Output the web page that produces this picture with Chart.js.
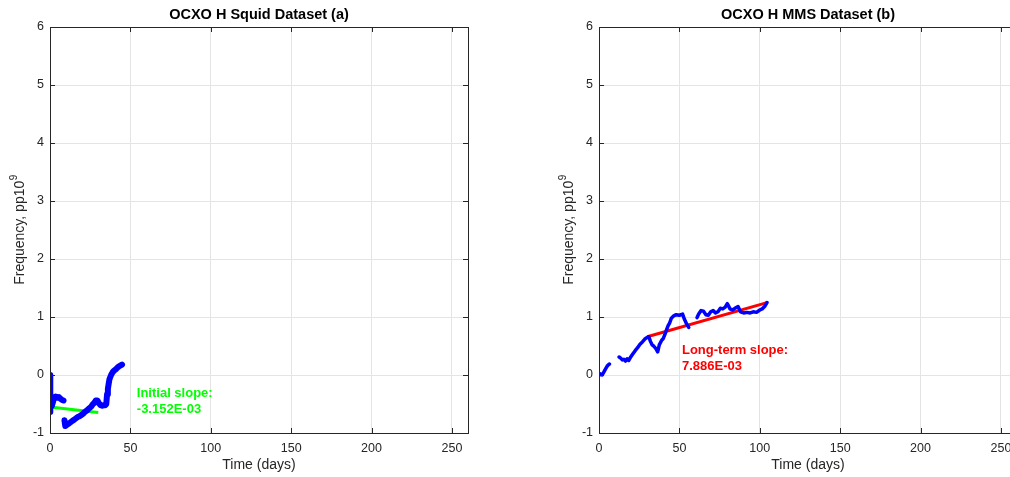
<!DOCTYPE html>
<html>
<head>
<meta charset="utf-8">
<script src="https://cdn.jsdelivr.net/npm/chart.js@4.4.1/dist/chart.umd.min.js"></script>
<style>
  html, body { margin: 0; padding: 0; background: #fff; overflow: hidden; }
  #wrap { position: relative; width: 1010px; height: 477px; overflow: hidden; }
  .panel { position: absolute; top: 0; width: 505px; height: 477px; }
  #left { left: 0; }
  #right { left: 549px; }
</style>
</head>
<body>
<div id="wrap">
  <div class="panel" id="left"><canvas id="squid"></canvas></div>
  <div class="panel" id="right"><canvas id="mms"></canvas></div>
</div>
<script>
// tick labels
const xTickValues = [0, 50, 100, 150, 200, 250];
const yTickValues = [-1, 0, 1, 2, 3, 4, 5, 6];

// panel (a) - Squid dataset, days / frequency (pp10^9), null = gap
const squidDays = [0, 0.05, 0.3, 1, 1.8, 2.5, 3.5, 4.5, 5.5, 6.5, 7.5, 8.4, 8.7,
  9, 9.5, 10.5, 11.5, 12.5, 13.5, 14.5, 15.5, 16.5, 17.5, 18.5, 19.5, 20.5, 21.5,
  22.5, 23.5, 24.5, 25.5, 26.5, 27.5, 28.5, 29.5, 30.5, 31.5, 32.5, 33.5, 34.5, 35,
  35.5, 36, 36.5, 37, 38, 39, 40, 41, 42, 43, 44.8];
const squidFreq = [0, -0.64, -0.56, -0.54, -0.47, -0.39, -0.37, -0.39, -0.38, -0.41, -0.43, -0.44, null,
  -0.78, -0.88, -0.86, -0.84, -0.82, -0.8, -0.78, -0.76, -0.74, -0.72, -0.71, -0.69, -0.67, -0.64,
  -0.62, -0.6, -0.57, -0.55, -0.51, -0.48, -0.44, -0.44, -0.49, -0.52, -0.53, -0.52, -0.52, -0.5,
  -0.33, -0.24, -0.15, -0.07, 0.0, 0.05, 0.08, 0.1, 0.13, 0.15, 0.18];
const squidFitDays = [0, 30];
const squidFitFreq = [-0.55, -0.645];

// panel (b) - MMS dataset
const mmsDays = [0, 1, 2, 3, 4, 5, 6, 6.5, 9,
  12.5, 13.5, 14.5, 15.5, 16.5, 17.5, 18.5, 19.5, 21, 22.5, 24, 25.5, 27, 28.5, 30, 31,
  32, 33, 34, 35.5, 36.5, 37.5, 39, 40, 41, 42, 43, 44, 45, 46.5, 48, 50, 52, 53, 54.5, 55.8, 58,
  61, 62, 63.5, 65, 66.5, 68, 69.5, 71, 72.5, 74, 75.5, 77, 78.5, 79.8, 81.5, 83, 84.5, 86.5,
  88, 90, 92, 94, 96, 98, 100, 101.5, 103, 104.5];
const mmsFreq = [0, 0.02, 0, 0.05, 0.1, 0.15, 0.18, 0.19, null,
  0.31, 0.29, 0.26, 0.27, 0.24, 0.28, 0.25, 0.3, 0.36, 0.42, 0.47, 0.53, 0.57, 0.62, 0.65, 0.66,
  0.58, 0.52, 0.5, 0.45, 0.4, 0.52, 0.6, 0.63, 0.7, 0.78, 0.85, 0.9, 0.98, 1.02, 1.04, 1.03, 1.05, 0.97, 0.88, 0.82, null,
  0.99, 1.05, 1.11, 1.1, 1.04, 1.03, 1.09, 1.11, 1.07, 1.09, 1.15, 1.14, 1.17, 1.23, 1.14, 1.12, 1.15, 1.18,
  1.09, 1.07, 1.08, 1.07, 1.09, 1.08, 1.12, 1.14, 1.18, 1.25];
const mmsFitDays = [30, 104.5];
const mmsFitFreq = [0.66, 1.247];

const ink = '#262626';
const font = 'Liberation Sans, Arial, Helvetica, sans-serif';

function pts(xs, ys) {
  return xs.map((x, i) => ({ x: x, y: ys[i] }));
}

// MATLAB-like frame: title, box, inward ticks, y label with superscript, slope note
const framePlugin = {
  id: 'frame',
  afterDraw(chart, args, opts) {
    const ctx = chart.ctx;
    const a = chart.chartArea;
    const xs = chart.scales.x, ys = chart.scales.y;
    ctx.save();
    ctx.strokeStyle = ink;
    ctx.lineWidth = 1;
    ctx.beginPath();
    xTickValues.forEach(v => {
      const px = Math.round(xs.getPixelForValue(v)) + 0.5;
      ctx.moveTo(px, a.bottom); ctx.lineTo(px, a.bottom - 5);
      ctx.moveTo(px, a.top); ctx.lineTo(px, a.top + 5);
    });
    yTickValues.forEach(v => {
      const py = Math.round(ys.getPixelForValue(v)) + 0.5;
      ctx.moveTo(a.left, py); ctx.lineTo(a.left + 5, py);
      ctx.moveTo(a.right, py); ctx.lineTo(a.right - 5, py);
    });
    ctx.stroke();
    ctx.strokeRect(Math.round(a.left) + 0.5, Math.round(a.top) + 0.5,
      Math.round(a.right - a.left), Math.round(a.bottom - a.top));

    // title
    ctx.fillStyle = '#000';
    ctx.font = 'bold 14.5px ' + font;
    ctx.textAlign = 'center';
    ctx.textBaseline = 'middle';
    ctx.fillText(opts.title, (a.left + a.right) / 2, 15);

    // y label
    ctx.fillStyle = ink;
    ctx.save();
    ctx.translate(20, (a.top + a.bottom) / 2);
    ctx.rotate(-Math.PI / 2);
    ctx.font = '14px ' + font;
    const main = 'Frequency, pp10';
    const w1 = ctx.measureText(main).width;
    ctx.font = '10px ' + font;
    const w2 = ctx.measureText('9').width;
    ctx.textAlign = 'left';
    ctx.font = '14px ' + font;
    ctx.fillText(main, -(w1 + w2) / 2, 0);
    ctx.font = '10px ' + font;
    ctx.fillText('9', -(w1 + w2) / 2 + w1 + 0.5, -6);
    ctx.restore();

    // slope note
    ctx.fillStyle = opts.noteColor;
    ctx.font = 'bold 13px ' + font;
    ctx.textAlign = 'left';
    ctx.textBaseline = 'middle';
    const nx = xs.getPixelForValue(opts.noteAt[0]);
    const ny = ys.getPixelForValue(opts.noteAt[1]);
    opts.note.forEach((line, i) => ctx.fillText(line, nx, ny + i * 16));
    ctx.restore();
  }
};

function makeChart(id, title, data, fit, fitColor, dataWidth, note, noteAt) {
  return new Chart(document.getElementById(id).getContext('2d'), {
    type: 'line',
    data: {
      datasets: [{
        data: pts(data[0], data[1]),
        borderColor: '#0000ff',
        backgroundColor: '#0000ff',
        borderWidth: dataWidth,
        borderJoinStyle: 'round',
        borderCapStyle: 'round',
        pointRadius: 0,
        tension: 0,
        spanGaps: false
      }, {
        data: pts(fit[0], fit[1]),
        borderColor: fitColor,
        borderWidth: 3,
        pointRadius: 0
      }]
    },
    options: {
      responsive: true,
      maintainAspectRatio: false,
      animation: false,
      devicePixelRatio: 1,
      layout: { padding: { top: 27, right: 37, left: 0, bottom: 0 } },
      plugins: {
        legend: { display: false },
        tooltip: { enabled: false },
        frame: { title: title, note: note, noteAt: noteAt, noteColor: fitColor }
      },
      scales: {
        x: {
          type: 'linear',
          min: 0,
          max: 260,
          afterBuildTicks: s => { s.ticks = xTickValues.map(v => ({ value: v })); },
          afterFit: s => { s.height = 44; },
          grid: { color: '#e4e4e4', drawTicks: false },
          border: { display: false },
          ticks: { color: ink, padding: 8, maxRotation: 0, font: { family: font, size: 12.5 } },
          title: {
            display: true, text: 'Time (days)', color: ink,
            padding: { top: 0, bottom: 3 }, font: { family: font, size: 14 }
          }
        },
        y: {
          min: -1,
          max: 6,
          afterBuildTicks: s => { s.ticks = yTickValues.map(v => ({ value: v })); },
          afterFit: s => { s.width = 50; },
          grid: { color: '#e4e4e4', drawTicks: false },
          border: { display: false },
          ticks: { color: ink, padding: 6, font: { family: font, size: 12.5 } }
        }
      }
    },
    plugins: [framePlugin]
  });
}

makeChart('squid', 'OCXO H Squid Dataset (a)', [squidDays, squidFreq],
  [squidFitDays, squidFitFreq], '#00ff00', 6,
  ['Initial slope:', '-3.152E-03'], [54, -0.31]);
makeChart('mms', 'OCXO H MMS Dataset (b)', [mmsDays, mmsFreq],
  [mmsFitDays, mmsFitFreq], '#ff0000', 3.5,
  ['Long-term slope:', '7.886E-03'], [51.6, 0.42]);
</script>
</body>
</html>
